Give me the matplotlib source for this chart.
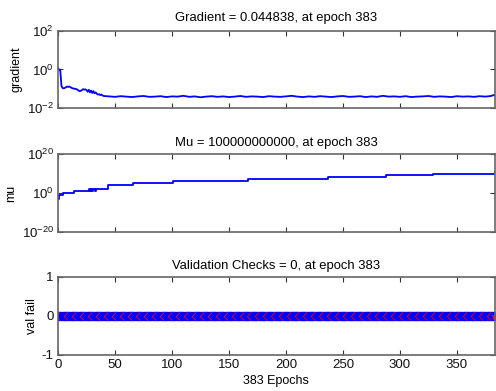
import numpy as np
import matplotlib
matplotlib.use("Agg")
import matplotlib.pyplot as plt
from matplotlib.path import Path
from matplotlib.ticker import FixedLocator, NullLocator, LogFormatterSciNotation

# Gradient readings (sampled off the curve)
grad_epochs = [0, 1, 2, 3, 4, 5, 6, 7, 8, 9, 10, 11, 12, 13, 14, 15, 16, 17, 18, 19, 20,
               21, 22, 23, 24, 25, 26, 27, 28, 29, 30, 31, 32, 33, 34, 35, 36, 37, 38, 39, 40] \
              + list(range(45, 381, 5)) + [382, 383]
grad_values = [1.15, 1.0, 0.85, 0.14, 0.11, 0.105, 0.11, 0.12, 0.13, 0.125, 0.13,
               0.12, 0.11, 0.105, 0.10, 0.10, 0.095, 0.09, 0.08, 0.075, 0.078,
               0.085, 0.095, 0.09, 0.093, 0.085, 0.07, 0.088, 0.065, 0.08, 0.06,
               0.075, 0.058, 0.065, 0.055, 0.05, 0.052, 0.047, 0.05, 0.045, 0.042,
               0.040, 0.038, 0.041, 0.039, 0.037, 0.040, 0.042, 0.038, 0.039, 0.041,
               0.037, 0.040, 0.039, 0.043, 0.038, 0.040, 0.036, 0.039, 0.041, 0.038,
               0.040, 0.037, 0.039, 0.042, 0.038, 0.040, 0.039, 0.037, 0.041, 0.039,
               0.038, 0.040, 0.043, 0.039, 0.037, 0.040, 0.038, 0.041, 0.039, 0.037,
               0.040, 0.042, 0.038, 0.039, 0.041, 0.037, 0.040, 0.038, 0.043, 0.039,
               0.040, 0.038, 0.041, 0.037, 0.039, 0.040, 0.042, 0.038, 0.040, 0.039,
               0.037, 0.041, 0.039, 0.040, 0.038, 0.041, 0.039, 0.042,
               0.047, 0.044838]

# Mu changes (epoch where a new value starts)
mu_epochs = [0, 1, 4, 14, 27, 28, 29, 30, 31, 32, 33, 34, 44, 66, 101, 167, 237, 288, 329, 382, 383]
mu_values = [1e-3, 1e-1, 1e0, 1e1, 1e2, 1e1, 1e2, 1e1, 1e2, 1e1, 1e2, 1e2,
             1e4, 1e5, 1e6, 1e7, 1e8, 1e9, 1e10, 1e10, 1e11]

# Validation failures per epoch
val_epochs = list(range(0, 384))
val_fail = [0] * 384

x_ticks = [0, 50, 100, 150, 200, 250, 300, 350]

plt.rcParams["font.family"] = "Liberation Sans"
plt.rcParams["mathtext.fontset"] = "custom"
plt.rcParams["mathtext.rm"] = "Liberation Sans"
plt.rcParams["mathtext.it"] = "Liberation Sans:italic"
plt.rcParams["mathtext.bf"] = "Liberation Sans:bold"
plt.rcParams["axes.unicode_minus"] = False

fig = plt.figure(figsize=(4.96, 3.91), dpi=100)
ax1 = fig.add_axes([0.117, 0.7238, 0.880, 0.197])
ax2 = fig.add_axes([0.117, 0.4066, 0.880, 0.1995])
ax3 = fig.add_axes([0.117, 0.0921, 0.880, 0.1995])


def style_axis(ax):
    # MATLAB-like box with inward ticks on all sides
    for s in ax.spines.values():
        s.set_color("#666666")
        s.set_linewidth(1.2)
    ax.tick_params(direction="in", top=True, right=True, length=3.5, width=0.8,
                   color="#333333", labelsize=9.5, pad=3, labelcolor="#111111")
    ax.set_xlim(0, 383)
    ax.xaxis.set_major_locator(FixedLocator(x_ticks))


# Gradient plot
ax1.semilogy(grad_epochs, grad_values, color="#0000ff", lw=1.3)
ax1.set_ylim(1e-2, 1e2)
ax1.yaxis.set_major_locator(FixedLocator([1e-2, 1e0, 1e2]))
ax1.yaxis.set_minor_locator(NullLocator())
ax1.yaxis.set_major_formatter(LogFormatterSciNotation())
style_axis(ax1)
ax1.set_xticklabels([])
ax1.set_ylabel("gradient", fontsize=9, labelpad=3)
ax1.set_title("Gradient = 0.044838, at epoch 383", fontsize=9.4, pad=7)

# Mu plot
ax2.semilogy(mu_epochs, mu_values, color="#0000ff", lw=1.3, drawstyle="steps-post")
ax2.set_ylim(1e-20, 1e20)
ax2.yaxis.set_major_locator(FixedLocator([1e-20, 1e0, 1e20]))
ax2.yaxis.set_minor_locator(NullLocator())
ax2.yaxis.set_major_formatter(LogFormatterSciNotation())
style_axis(ax2)
ax2.set_xticklabels([])
ax2.set_ylabel("mu", fontsize=9, labelpad=3)
ax2.set_title("Mu = 100000000000, at epoch 383", fontsize=9.4, pad=6)

# Validation checks plot: blue filled circles, red outline edges peeking through
chevron = Path([(0.4, 1.0), (-0.5, 0.0), (0.4, -1.0)],
               [Path.MOVETO, Path.LINETO, Path.LINETO])
ax3.plot(val_epochs, val_fail, color="#0000ff", lw=2, marker="o", markersize=6.2,
         markerfacecolor="#0000ff", markeredgecolor="#0000ff", markeredgewidth=0.5)
ax3.plot(val_epochs, val_fail, linestyle="none", marker=chevron, markersize=6,
         markerfacecolor="none", markeredgecolor="#ff0000", markeredgewidth=0.6,
         markevery=7)
ax3.plot(val_epochs[-1:], val_fail[-1:], linestyle="none", marker="*", markersize=6,
         color="#ff0000", markeredgewidth=0.6)
ax3.set_ylim(-1, 1)
ax3.set_yticks([-1, 0, 1])
style_axis(ax3)
ax3.set_ylabel("val fail", fontsize=9, labelpad=3)
ax3.set_xlabel("383 Epochs", fontsize=9, labelpad=3)
ax3.set_title("Validation Checks = 0, at epoch 383", fontsize=9.4, pad=6)

fig.savefig("out.png", dpi=100)
